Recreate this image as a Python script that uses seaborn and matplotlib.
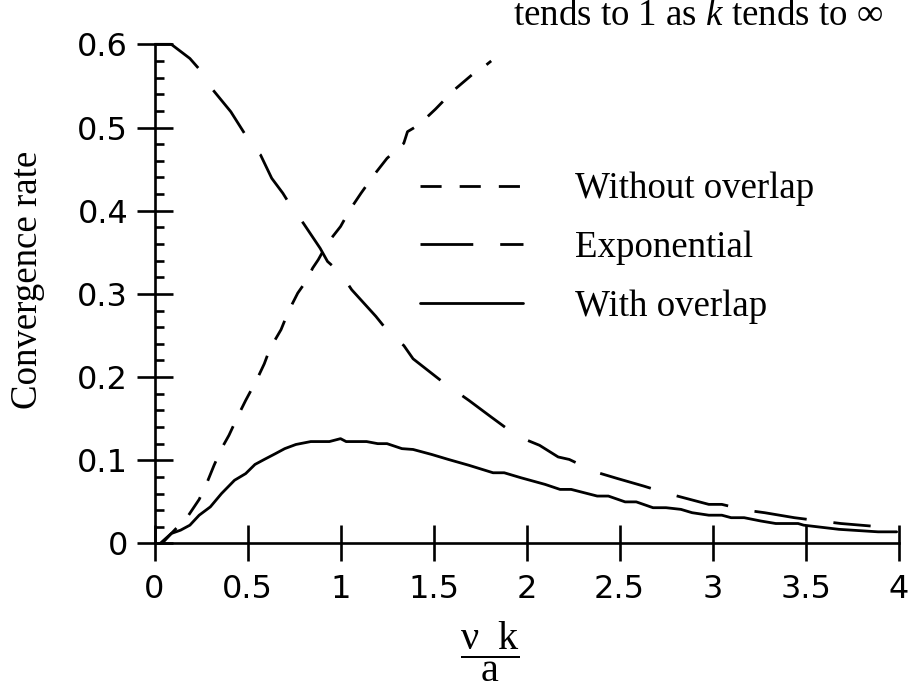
import numpy as np
import pandas as pd
import matplotlib
matplotlib.use("Agg")
import matplotlib.pyplot as plt
from matplotlib.ticker import MultipleLocator
import seaborn as sns

# values
# "Without overlap" (short dashes)
x_without = [0.04, 0.09, 0.18, 0.24, 0.28, 0.32, 0.36, 0.40, 0.45, 0.49, 0.55, 0.59, 0.62, 0.68,
             0.72, 0.77, 0.82, 0.85, 0.88, 0.93, 1.00, 1.05, 1.11, 1.18, 1.25, 1.34, 1.36, 1.42,
             1.51, 1.61, 1.71, 1.76, 1.81]
y_without = [0.0, 0.012, 0.033, 0.053, 0.072, 0.094, 0.114, 0.13, 0.154, 0.172, 0.197, 0.216,
             0.234, 0.257, 0.279, 0.301, 0.317, 0.331, 0.341, 0.361, 0.381, 0.401, 0.421, 0.443,
             0.463, 0.481, 0.495, 0.503, 0.522, 0.545, 0.564, 0.571, 0.58]

# "Exponential" (long dashes)
x_expo = [0.0, 0.09, 0.19, 0.245, 0.30, 0.41, 0.54, 0.57, 0.63, 0.69, 0.74, 0.80, 0.89, 0.93,
          1.00, 1.06, 1.19, 1.28, 1.34, 1.39, 1.55, 1.69, 1.81, 1.95, 2.07, 2.17, 2.23, 2.37,
          2.49, 2.63, 2.76, 2.98, 3.05, 3.18, 3.28, 3.44, 3.58, 3.69, 3.85]
y_expo = [0.6, 0.6, 0.583, 0.569, 0.549, 0.519, 0.473, 0.467, 0.439, 0.421, 0.403, 0.385, 0.355,
          0.339, 0.325, 0.305, 0.273, 0.248, 0.238, 0.222, 0.194, 0.172, 0.152, 0.129, 0.118,
          0.104, 0.101, 0.086, 0.078, 0.069, 0.060, 0.047, 0.047, 0.040, 0.037, 0.031, 0.027,
          0.024, 0.021]

# "With overlap" (solid)
x_with = [0.03, 0.09, 0.14, 0.19, 0.24, 0.30, 0.36, 0.43, 0.49, 0.54, 0.59, 0.65, 0.70, 0.76,
          0.84, 0.94, 1.00, 1.03, 1.14, 1.20, 1.25, 1.33, 1.39, 1.49, 1.58, 1.69, 1.82, 1.88,
          1.97, 2.10, 2.18, 2.24, 2.38, 2.44, 2.53, 2.59, 2.68, 2.75, 2.83, 2.89, 2.98, 3.05,
          3.10, 3.17, 3.26, 3.34, 3.46, 3.49, 3.68, 3.89, 3.99]
y_with = [0.0, 0.012, 0.016, 0.022, 0.034, 0.044, 0.060, 0.076, 0.084, 0.095, 0.101, 0.108,
          0.114, 0.119, 0.1225, 0.1225, 0.126, 0.1225, 0.1225, 0.12, 0.12, 0.114, 0.113, 0.107,
          0.101, 0.094, 0.085, 0.085, 0.079, 0.071, 0.065, 0.065, 0.057, 0.057, 0.05, 0.05,
          0.043, 0.043, 0.041, 0.037, 0.034, 0.034, 0.031, 0.031, 0.027, 0.024, 0.024, 0.022,
          0.017, 0.014, 0.014]

xticks = [0, 0.5, 1, 1.5, 2, 2.5, 3, 3.5, 4]
xtick_labels = ["0", "0.5", "1", "1.5", "2", "2.5", "3", "3.5", "4"]
yticks = [0, 0.1, 0.2, 0.3, 0.4, 0.5, 0.6]
ytick_labels = ["0", "0.1", "0.2", "0.3", "0.4", "0.5", "0.6"]

sns.set_style("ticks")
plt.rcParams["font.family"] = ["DejaVu Sans"]
plt.rcParams["text.color"] = "black"
plt.rcParams["axes.labelcolor"] = "black"
plt.rcParams["mathtext.fontset"] = "custom"
plt.rcParams["mathtext.rm"] = "Liberation Serif"
plt.rcParams["mathtext.it"] = "Liberation Serif:italic"
plt.rcParams["mathtext.bf"] = "Liberation Serif:bold"
serif = ["Liberation Serif", "DejaVu Serif"]

fig = plt.figure(figsize=(9.21, 6.85), dpi=100)
ax = fig.add_axes([0.1678, 0.2066, 0.8078, 0.7287])

lw = 2.0
sns.lineplot(x=x_without, y=y_without, ax=ax, color="black", lw=lw,
             linestyle=(0, (7.6, 6.5)), label="Without overlap", sort=False, estimator=None)
sns.lineplot(x=x_expo, y=y_expo, ax=ax, color="black", lw=lw,
             linestyle=(0, (19, 9.7)), label="Exponential", sort=False, estimator=None)
sns.lineplot(x=x_with, y=y_with, ax=ax, color="black", lw=lw,
             linestyle="-", label="With overlap", sort=False, estimator=None)
for line in ax.lines:
    line.set_clip_on(False)

ax.set_xlim(0, 4)
ax.set_ylim(0, 0.6)
sns.despine(ax=ax)
for side in ["left", "bottom"]:
    ax.spines[side].set_linewidth(1.9)
    ax.spines[side].set_color("black")

ax.set_xticks(xticks)
ax.set_xticklabels(xtick_labels)
ax.set_yticks(yticks)
ax.set_yticklabels(ytick_labels)
ax.yaxis.set_minor_locator(MultipleLocator(0.02))
ax.tick_params(axis="both", which="major", direction="inout", length=26, width=1.9,
               labelsize=23, colors="black")
ax.tick_params(axis="x", which="major", pad=9)
ax.tick_params(axis="y", which="major", pad=6)
ax.tick_params(axis="y", which="minor", direction="in", length=6.5, width=1.9, colors="black")

ax.set_ylabel("Convergence rate", fontsize=26.6, family=serif)
ax.yaxis.set_label_coords(-0.147, 0.528)
ax.set_xlabel(r"$\dfrac{\mathrm{ν\ \ k}}{\mathrm{a}}$", fontsize=29)
ax.xaxis.set_label_coords(0.451, -0.152)

handles = ax.lines[:3]
ax.legend(handles, [h.get_label() for h in handles], loc="upper left",
          bbox_to_anchor=(420 / 921, 1 - 172 / 685), bbox_transform=fig.transFigure,
          frameon=False, borderpad=0, borderaxespad=0, handlelength=2.79,
          handletextpad=1.41, labelspacing=0.65, prop={"family": serif, "size": 26.6})

fig.text(513 / 921, 1 - 25 / 685, "tends to 1 as $k$ tends to ∞", fontsize=26.6,
         family=serif, ha="left", va="baseline")

fig.savefig("out.png", dpi=100)
